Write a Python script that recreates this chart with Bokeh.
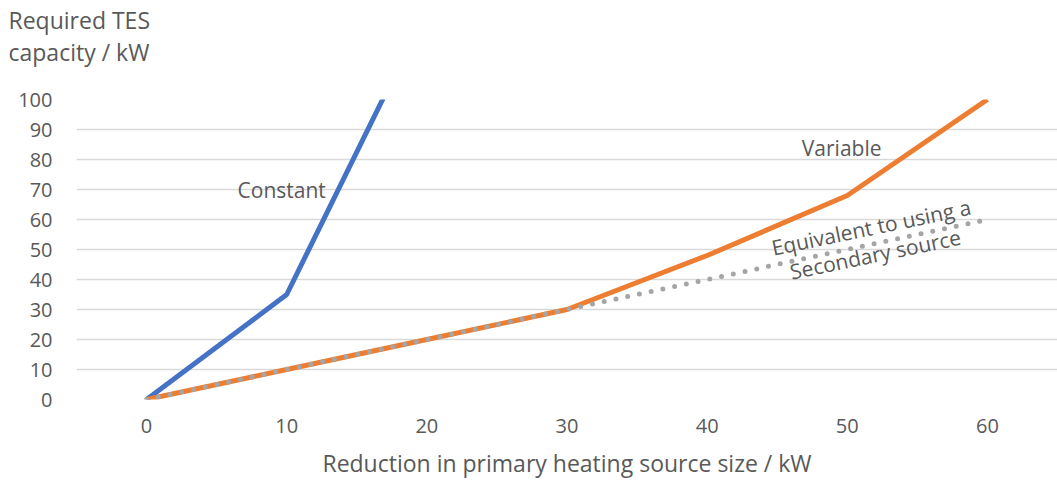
from bokeh.plotting import figure
from bokeh.models import Range1d, FixedTicker, Label, Title
from bokeh.embed import file_html
from bokeh.resources import INLINE

x_vals = [0, 10, 20, 30, 40, 50, 60]
constant = [0, 35, 130]
variable = [0, 10, 20, 30, 48, 68, 100]
equivalent = [0, 10, 20, 30, 40, 50, 60]
y_ticks = [0, 10, 20, 30, 40, 50, 60, 70, 80, 90, 100]

FONT = "Open Sans"
TXT = "#595959"

p = figure(width=1057, height=483, output_backend="svg", toolbar_location=None,
           x_range=Range1d(-5, 65), y_range=Range1d(0, 100),
           min_border_left=76, min_border_right=0, min_border_top=99, min_border_bottom=84)
p.outline_line_color = None
p.background_fill_color = "white"
p.border_fill_color = "white"

p.xgrid.grid_line_color = None
p.ygrid.grid_line_color = "#d9d9d9"
p.ygrid.grid_line_width = 1.5

for ax in (p.xaxis[0], p.yaxis[0]):
    ax.axis_line_color = None
    ax.major_tick_line_color = None
    ax.minor_tick_line_color = None
    ax.major_label_text_font = FONT
    ax.major_label_text_font_size = "20px"
    ax.major_label_text_color = TXT

p.xaxis.ticker = FixedTicker(ticks=x_vals)
p.yaxis.ticker = FixedTicker(ticks=y_ticks)
p.yaxis.major_label_standoff = 18
p.xaxis.major_label_standoff = 13
p.xaxis.axis_label = "Reduction in primary heating source size / kW"
p.xaxis.axis_label_text_font = FONT
p.xaxis.axis_label_text_font_size = "23px"
p.xaxis.axis_label_text_font_style = "normal"
p.xaxis.axis_label_text_color = TXT
p.xaxis.axis_label_standoff = 11

p.add_layout(Title(text="Required TES\ncapacity / kW\n ", align="left", offset=-68,
                   standoff=0, text_font=FONT, text_font_size="23px",
                   text_line_height=1.0,
                   text_font_style="normal", text_color=TXT), "above")

p.line(x_vals[:3], constant, line_color="#4472C4", line_width=5, line_join="round")
p.line(x_vals, variable, line_color="#ED7D31", line_width=5, line_join="round")
p.line(x_vals, equivalent, line_color="#A5A5A5", line_width=5, line_dash="0 12",
       line_cap="round")

def lab(x, y, t, angle=0.0, size="21px"):
    p.add_layout(Label(x=x, y=y, text=t, angle=angle, text_align="center",
                       text_baseline="middle", text_font=FONT, text_font_size=size,
                       text_color=TXT))

lab(9.64, 69.7, "Constant")
lab(49.6, 83.7, "Variable")
lab(51.7, 57.4, "Equivalent to using a", angle=0.205)
lab(52.0, 48.4, "Secondary source", angle=0.205)

open("out.html", "w").write(file_html(p, INLINE))
